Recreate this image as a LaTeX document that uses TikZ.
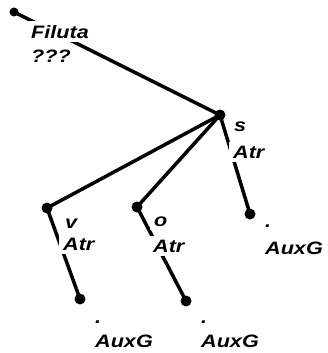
\documentclass[tikz,border=0pt]{standalone}
\usepackage{fontspec}
\newfontfamily\treefont[FakeStretch=1.2]{Liberation Sans}

\begin{document}
\begin{tikzpicture}[
  x=1pt, y=-1pt,
  edge/.style={line width=3.5pt},
  tnode/.style={circle,fill=black,inner sep=0pt,minimum size=11pt},
  rnode/.style={circle,fill=black,inner sep=0pt,minimum size=9pt},
  lbl/.style={fill=white,inner sep=4pt,anchor=base west,font=\treefont\bfseries\itshape\fontsize{18}{18}\selectfont}
]
  \useasboundingbox[fill=white] (0,0) rectangle (327,353);
  \coordinate (root) at (14,12);
  \coordinate (s) at (220,115);
  \coordinate (v) at (47,208);
  \coordinate (o) at (137,207);
  \coordinate (sg) at (250,214);
  \coordinate (vg) at (80,299);
  \coordinate (og) at (186,301);
  \draw[edge] (root) -- (s);
  \draw[edge] (s) -- (v);
  \draw[edge] (s) -- (o);
  \draw[edge] (s) -- (sg);
  \draw[edge] (v) -- (vg);
  \draw[edge] (o) -- (og);
  % labels: word form over afun
  \node[lbl] (rootf) at (27,38) {Filuta};
  \node[lbl] (roota) at (27,63) {???};
  \node[lbl] (sf) at (230,131) {s};
  \node[lbl] (sa) at (229,158) {Atr};
  \node[lbl] (vf) at (61,228) {v};
  \node[lbl] (va) at (59,250) {Atr};
  \node[lbl] (of) at (150,226) {o};
  \node[lbl] (oa) at (149,252) {Atr};
  \node[lbl] (sgf) at (261,227) {.};
  \node[lbl] (sga) at (261,254) {AuxG};
  \node[lbl] (vgf) at (91,323) {.};
  \node[lbl] (vga) at (91,347) {AuxG};
  \node[lbl] (ogf) at (197,323) {.};
  \node[lbl] (oga) at (197,347) {AuxG};
  % tree nodes
  \node[rnode] (rootd) at (root) {};
  \foreach \n in {s,v,o,sg,vg,og}
    \node[tnode] (\n d) at (\n) {};
\end{tikzpicture}
\end{document}
